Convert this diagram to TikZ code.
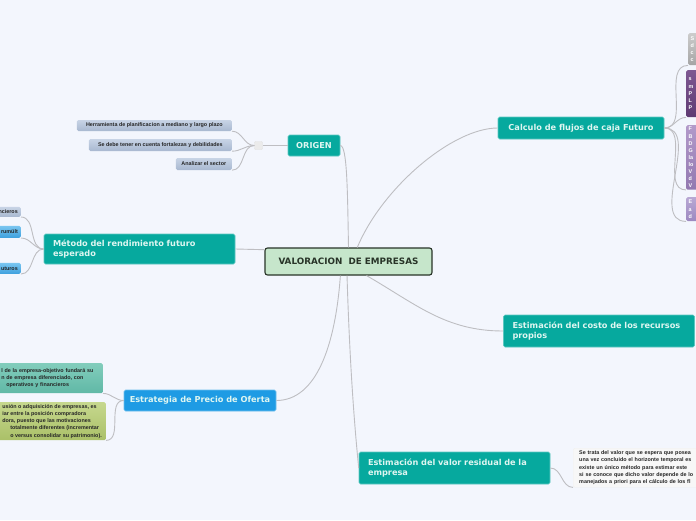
\documentclass[tikz,border=0pt]{standalone}
\usepackage{fontspec}
\setmainfont{DejaVu Sans}
\newfontfamily\notefont{Liberation Sans}
\usetikzlibrary{positioning}

\definecolor{paper}{RGB}{243,246,253}
\definecolor{tealbox}{RGB}{6,169,158}
\definecolor{tealtext}{RGB}{222,246,241}
\definecolor{rootfill}{RGB}{198,230,203}
\definecolor{rootline}{RGB}{40,52,40}
\definecolor{bluebox}{RGB}{30,155,228}
\definecolor{linkgray}{RGB}{190,190,194}
\definecolor{greyblueA}{RGB}{200,212,230}
\definecolor{greyblueB}{RGB}{168,184,208}
\definecolor{skyA}{RGB}{122,198,240}
\definecolor{skyB}{RGB}{62,160,222}
\definecolor{mintA}{RGB}{130,205,188}
\definecolor{mintB}{RGB}{96,184,166}
\definecolor{oliveA}{RGB}{198,216,142}
\definecolor{oliveB}{RGB}{170,192,104}
\definecolor{greyA}{RGB}{204,204,204}
\definecolor{greyB}{RGB}{165,165,165}
\definecolor{plumA}{RGB}{126,88,146}
\definecolor{plumB}{RGB}{94,58,114}
\definecolor{lilacA}{RGB}{178,154,202}
\definecolor{lilacB}{RGB}{146,120,176}
\definecolor{lavA}{RGB}{184,168,212}
\definecolor{lavB}{RGB}{156,136,192}

\begin{document}
\begin{tikzpicture}[x=1pt, y=-1pt,
    root/.style={draw=rootline, line width=1.1pt, fill=rootfill, rounded corners=2.5pt,
        font=\bfseries\fontsize{8.8}{10}\selectfont, text=rootline,
        minimum width=167pt, minimum height=27pt},
    topic/.style={draw=tealbox!65!white, line width=0.6pt, fill=tealbox, rounded corners=1.5pt,
        text=tealtext, font=\bfseries\fontsize{8.2}{10.5}\selectfont},
    wide/.style={topic, text width=173pt, align=left, inner xsep=9pt, minimum height=32pt},
    leaf/.style={rounded corners=1.5pt, text=black!85, inner xsep=3pt, inner ysep=0pt,
        font=\notefont\bfseries\fontsize{5.4}{7.3}\selectfont},
    strip/.style={rounded corners=1.5pt, text=white, anchor=north west, align=left,
        text width=12pt, inner xsep=2.5pt, inner ysep=2pt,
        font=\notefont\bfseries\fontsize{5.4}{7.1}\selectfont},
    link/.style={draw=linkgray, line width=0.9pt}]

    \fill[paper] (0,0) rectangle (696,520);
    \useasboundingbox (0,0) rectangle (696,520);

    % centre
    \node[root] (root) at (348.5,261.5) {VALORACION \ DE EMPRESAS};

    % origen
    \node[topic, minimum width=52pt, minimum height=21pt] (origen) at (314,145.5) {ORIGEN};
    \node[fill=black!8, draw=black!12, rounded corners=1pt, minimum size=8pt, inner sep=0pt,
        left=25pt of origen] (fold) {};
    \node[leaf, top color=greyblueA, bottom color=greyblueB, minimum width=155pt,
        minimum height=11pt, anchor=east] (plazo) at (232,125.5)
        {Herramienta de planificacion a mediano y largo plazo};
    \node[leaf, top color=greyblueA, bottom color=greyblueB, minimum width=143pt,
        minimum height=12pt, anchor=east] (fortalezas) at (232,145)
        {Se debe tener en cuenta fortalezas y debilidades};
    \node[leaf, top color=greyblueA, bottom color=greyblueB, minimum width=56pt,
        minimum height=12pt, anchor=east] (sector) at (232,164) {Analizar el sector};

    % flujos de caja
    \node[topic, minimum width=166pt, minimum height=22pt] (flujos) at (581,128)
        {Calculo de flujos de caja Futuro};
    \node[strip, top color=greyA, bottom color=greyB, minimum height=32pt] (flgris)
        at (688,33) {S\\d\\c\\c};
    \node[strip, top color=plumA, bottom color=plumB, minimum height=47pt] (flmorado)
        at (686,70) {s\\m\\P\\L\\P};
    \node[strip, top color=lilacA, bottom color=lilacB, minimum height=64pt] (fllila)
        at (686,125) {F\\B\\D\\G\\la\\lo\\V\\d\\V};
    \node[strip, top color=lavA, bottom color=lavB, minimum height=24pt] (fllavanda)
        at (686,197) {E\\a\\d};

    % rendimiento futuro
    \node[wide, minimum height=30pt] (metodo) at (139.5,249)
        {Método del rendimiento futuro\\esperado};
    \node[leaf, top color=greyblueA, bottom color=greyblueB, minimum height=10pt,
        anchor=south east] (financ) at (21,217) {\hspace*{12pt}ncieros};
    \node[leaf, top color=skyA, bottom color=skyB, minimum height=12pt,
        anchor=south east] (rumult) at (21,238) {\hspace*{12pt}rumült};
    \node[leaf, top color=skyA, bottom color=skyB, minimum height=11pt,
        anchor=south east] (futuros) at (21,274) {\hspace*{12pt}uturos};

    % costo de recursos propios
    \node[wide] (costo) at (599,331) {Estimación del costo de los recursos\\propios};

    % precio de oferta
    \node[topic, fill=bluebox, draw=bluebox!65!white, minimum width=152pt, minimum height=21pt]
        (oferta) at (200,400.5) {Estrategia de Precio de Oferta};
    \node[leaf, top color=mintA, bottom color=mintB, text width=98pt, align=left,
        inner xsep=3.5pt, minimum height=30pt, anchor=north east] (motivo) at (103,363)
        {l de la empresa-objetivo fundará su\\n de empresa diferenciado, con\\
         \hspace*{5pt}operativos y financieros};
    \node[leaf, top color=oliveA, bottom color=oliveB, align=left,
        inner xsep=4pt, minimum height=38pt, anchor=north east] (fusion) at (106,402)
        {usión o adquisición de empresas, es\\iar entre la posición compradora\\
         dora, puesto que las motivaciones\\\hspace*{8pt}totalmente diferentes (incrementar\\
         \hspace*{8pt}o versus consolidar su patrimonio).};

    % valor residual
    \node[wide] (residual) at (454.5,468) {Estimación del valor residual de la\\empresa};
    \node[leaf, fill=white!97!black, draw=black!6, text width=140pt, align=left,
        inner xsep=6pt, minimum height=39pt, anchor=north west] (horizonte) at (573,448)
        {Se trata del valor que se espera que posea\\una vez concluido el horizonte temporal es\\
         existe un único método para estimar este\\si se conoce que dicho valor depende de lo\\
         manejados a priori para el cálculo de los fl};

    % links
    \draw[link] (origen.east) .. controls +(7,0) and +(-1,-55) .. (root.north);
    \draw[link] (root.58) .. controls +(25,-60) and +(-45,0) .. (flujos.west);
    \draw[link] (metodo.east) -- (root.172);
    \draw[link] (root.-38) to[out=-30,in=180] (costo.west);
    \draw[link] (root.-120) .. controls +(-5,70) and +(40,0) .. (oferta.east);
    \draw[link] (root.-96) .. controls +(3,100) and +(-3,-30) .. (residual.west);

    \draw[link] (origen.west) to[out=180,in=0] (fold.east);
    \foreach \leafnode in {plazo, fortalezas, sector}
        \draw[link] (fold.west) to[out=180,in=0] (\leafnode.south east);
    \foreach \leafnode in {flgris, flmorado, fllila, fllavanda}
        \draw[link] (flujos.east) to[out=0,in=180] (\leafnode.south west);
    \foreach \leafnode in {financ, rumult, futuros}
        \draw[link] (metodo.west) to[out=180,in=0] (\leafnode.south east);
    \foreach \leafnode in {motivo, fusion}
        \draw[link] (oferta.west) to[out=180,in=0] (\leafnode.south east);
    \draw[link] (residual.east) to[out=0,in=180] (horizonte.south west);
\end{tikzpicture}
\end{document}
